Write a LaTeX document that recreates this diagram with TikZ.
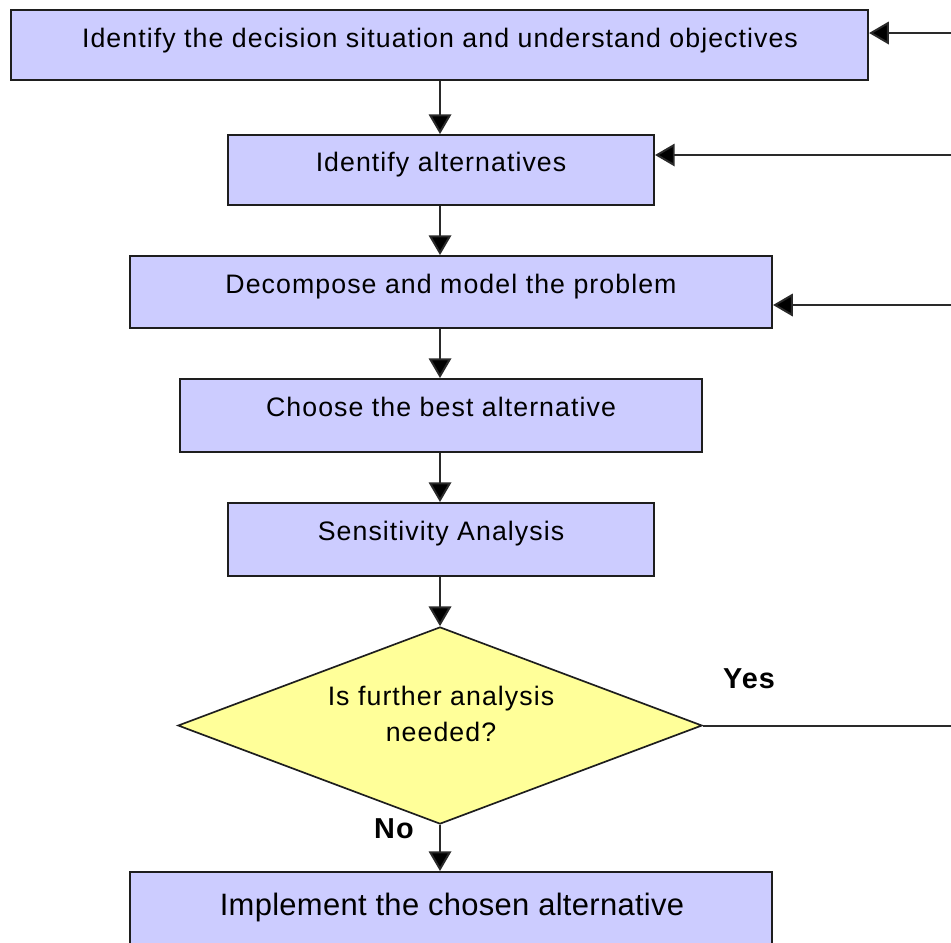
\documentclass[tikz,border=0pt]{standalone}
\usepackage{fontspec}
\setmainfont{Liberation Sans}[LetterSpace=4]
\usetikzlibrary{arrows.meta,shapes.geometric}
\definecolor{boxfill}{HTML}{CCCCFF}
\definecolor{decfill}{HTML}{FFFF99}
\definecolor{edge}{HTML}{1E1E1E}
\definecolor{wire}{HTML}{2A2A2A}
\tikzset{
  stepbox/.style={rectangle, draw=edge, fill=boxfill, line width=1.4pt, inner sep=0pt},
  decision/.style={diamond, draw=edge, fill=decfill, line width=1.2pt, inner sep=0pt},
  lbl/.style={inner sep=0pt, anchor=base, font=\fontsize{19}{25.6}\selectfont, align=center},
  biglbl/.style={inner sep=0pt, anchor=base, font=\fontsize{22}{26}\selectfont\addfontfeatures{LetterSpace=1}},
  answer/.style={inner sep=0pt, font=\bfseries\fontsize{20.5}{24}\selectfont},
  arr/.style={draw=wire, line width=1.4pt, -{Triangle[length=14pt,width=16pt,fill=black]}},
  wireline/.style={draw=wire, line width=1.4pt}
}
\begin{document}
\begin{tikzpicture}[x=0.025cm, y=-0.025cm]
  \clip (0,0) rectangle (951,942);
  \fill[white] (0,0) rectangle (951,942);

  % process steps
  \node[stepbox, minimum width=21.425cm, minimum height=1.75cm] (b1) at (439.5,45) {};
  \node[stepbox, minimum width=10.65cm, minimum height=1.75cm] (b2) at (441,170) {};
  \node[stepbox, minimum width=16.05cm, minimum height=1.8cm] (b3) at (451,292) {};
  \node[stepbox, minimum width=13.05cm, minimum height=1.825cm] (b4) at (441,415.5) {};
  \node[stepbox, minimum width=10.65cm, minimum height=1.825cm] (b5) at (441,539.5) {};
  \node[decision, minimum width=13.1cm, minimum height=4.925cm] (d) at (440,725.5) {};
  \node[stepbox, minimum width=16.05cm, minimum height=2.1cm] (b7) at (451,914) {};

  % step texts, placed on their baselines (last line for the decision)
  \node[lbl] (t1) at (440,47) {Identify the decision situation and understand objectives};
  \node[lbl] (t2) at (441,171) {Identify alternatives};
  \node[lbl] (t3) at (451,293) {Decompose and model the problem};
  \node[lbl] (t4) at (441,416) {Choose the best alternative};
  \node[lbl] (t5) at (441,540) {Sensitivity Analysis};
  \node[lbl] (td) at (441,741) {Is further analysis\\needed?};
  \node[biglbl] (t7) at (452,915) {Implement the chosen alternative};

  % answers
  \node[answer] (yes) at (749,679) {Yes};
  \node[answer] (no) at (394,829) {No};

  % main flow
  \coordinate (axis) at (440,0);
  \draw[arr] (b1.south -| axis) -- (b2.north -| axis);
  \draw[arr] (b2.south -| axis) -- (b3.north -| axis);
  \draw[arr] (b3.south -| axis) -- (b4.north -| axis);
  \draw[arr] (b4.south -| axis) -- (b5.north -| axis);
  \draw[arr] (b5.south -| axis) -- (d.north);
  \draw[arr] (d.south) -- (b7.north -| d.south);

  % return paths entering from the right edge
  \coordinate (r1) at (951,33);
  \coordinate (r2) at (951,155);
  \coordinate (r3) at (951,305);
  \coordinate (ry) at (951,725.5);
  \draw[arr] (r1) -- (r1 -| b1.east);
  \draw[arr] (r2) -- (r2 -| b2.east);
  \draw[arr] (r3) -- (r3 -| b3.east);
  \draw[wireline] (d.east) -- (ry);
\end{tikzpicture}
\end{document}
